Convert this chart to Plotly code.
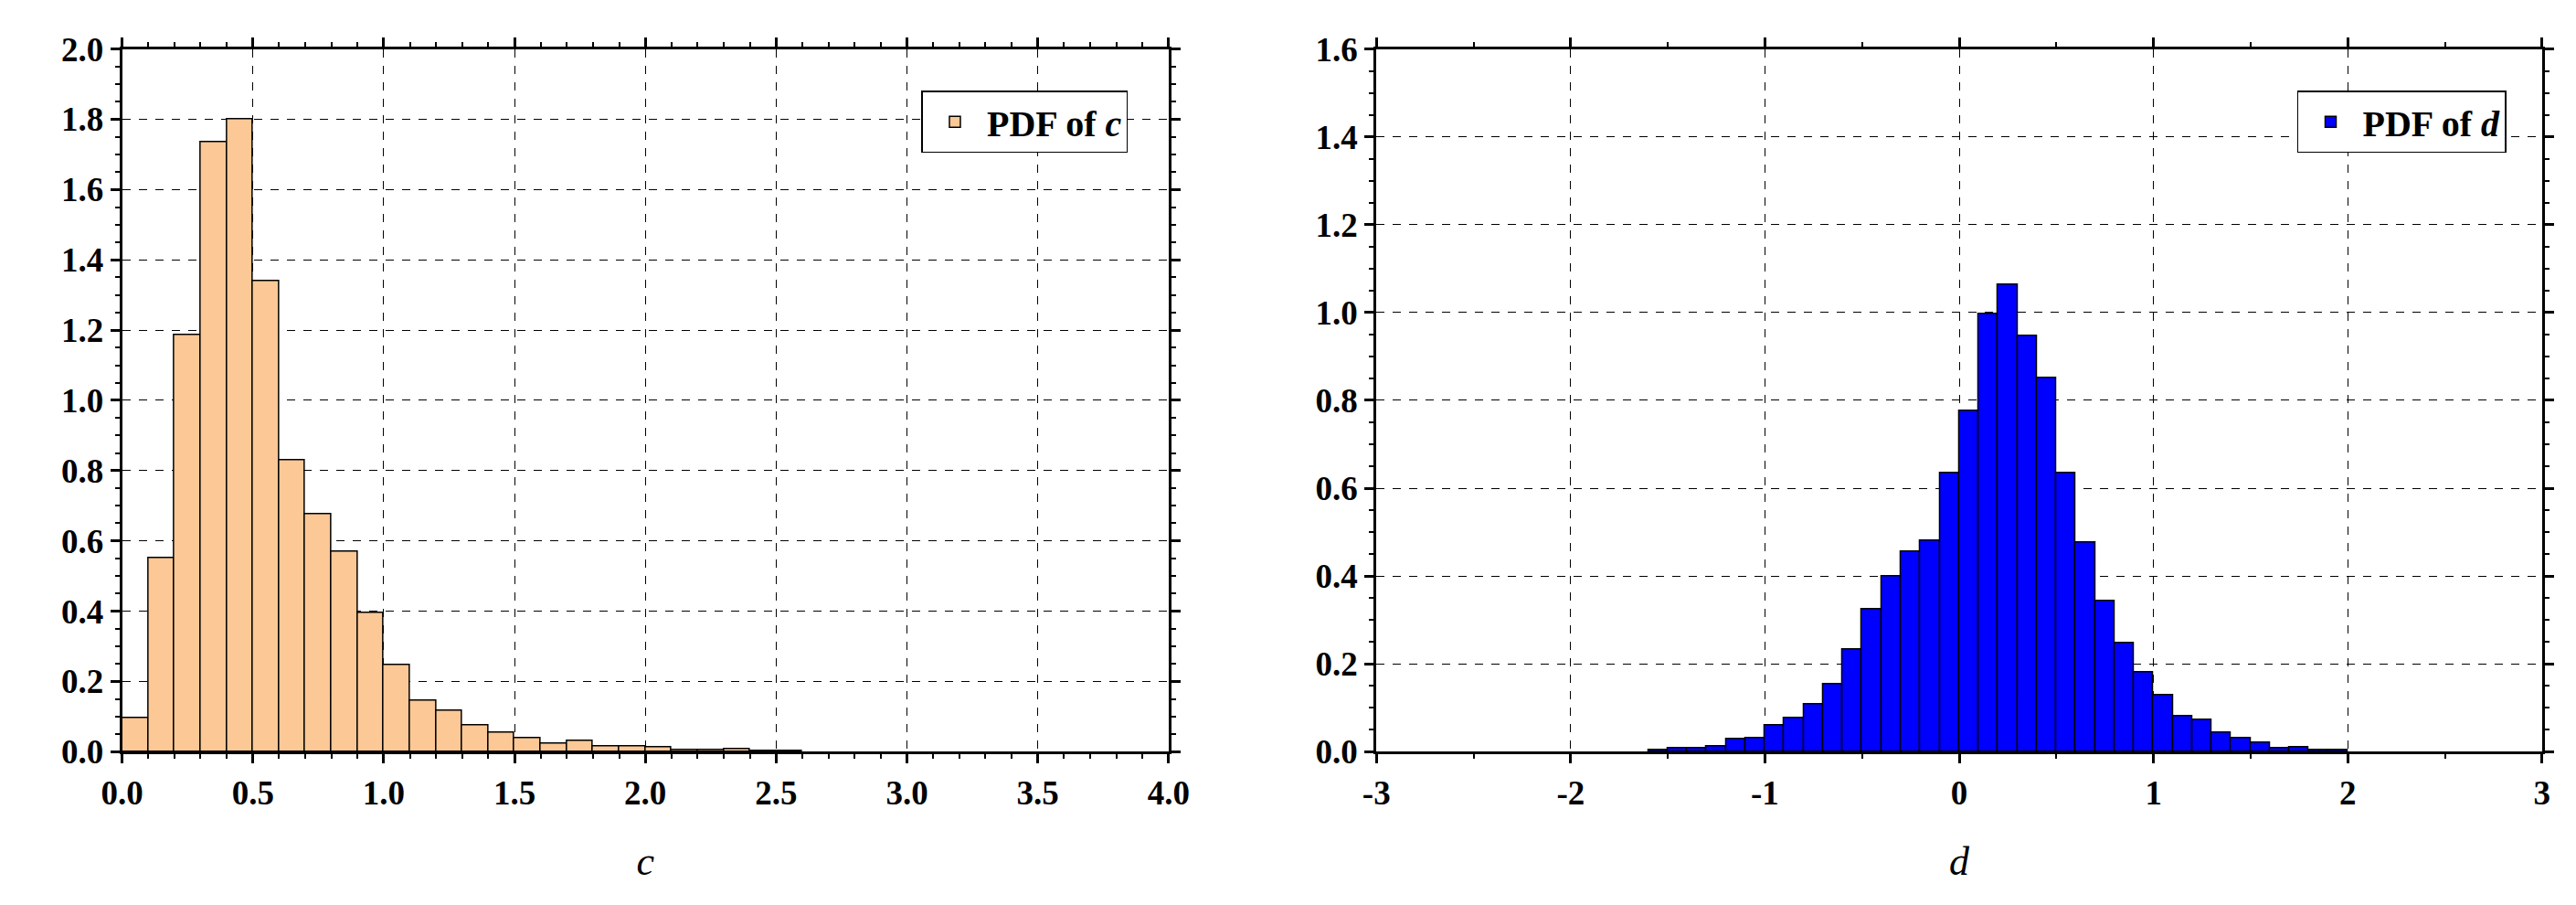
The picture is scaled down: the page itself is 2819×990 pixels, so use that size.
import plotly.graph_objs as go
from plotly.subplots import make_subplots

# left panel: PDF of c, bins of width 0.1 starting at 0
c_edges = [round(i * 0.1, 1) for i in range(0, 26)]
c_pdf = [0.096, 0.55, 1.185, 1.735, 1.80, 1.34, 0.83, 0.675, 0.57, 0.395,
         0.247, 0.145, 0.116, 0.075, 0.055, 0.037, 0.022, 0.030, 0.014, 0.014,
         0.012, 0.005, 0.005, 0.008, 0.002, 0.001]

# right panel: PDF of d, bins of width 0.1 starting at -1.6
d_edges = [round(-1.6 + i * 0.1, 1) for i in range(0, 36)]
d_pdf = [0.003, 0.007, 0.007, 0.012, 0.028, 0.031, 0.059, 0.077, 0.108, 0.153,
         0.233, 0.324, 0.40, 0.456, 0.48, 0.635, 0.776, 0.997, 1.063, 0.946,
         0.85, 0.635, 0.477, 0.343, 0.248, 0.18, 0.129, 0.08, 0.073, 0.044,
         0.031, 0.021, 0.008, 0.009, 0.004, 0.003]

d_ticks = [-3, -2, -1, 0, 1, 2, 3]
d_ticktext = ["-3", "-2", "-1", "0", "1", "2", "3"]

FONT = "Liberation Serif"

fig = make_subplots(rows=1, cols=2)

fig.add_trace(go.Bar(x=c_edges, y=c_pdf, width=0.1, offset=0, showlegend=True,
                     marker=dict(color="#fbc896", line=dict(color="black", width=1.5)),
                     name="<b>PDF of <i>c</i></b>", legend="legend"), row=1, col=1)
fig.add_trace(go.Bar(x=d_edges, y=d_pdf, width=0.1, offset=0, showlegend=True,
                     marker=dict(color="#0000ff", line=dict(color="black", width=1.5)),
                     name="<b>PDF of <i>d</i></b>", legend="legend2"), row=1, col=2)

axis_common = dict(showline=True, linecolor="black", linewidth=3, mirror="allticks",
                   ticks="outside", ticklen=10, tickwidth=3, tickcolor="black",
                   showgrid=True, gridcolor="black", griddash="dash", gridwidth=1.2,
                   zeroline=False,
                   tickfont=dict(family=FONT, size=37, color="black", weight="bold"),
                   minor=dict(ticks="outside", ticklen=5, tickwidth=2, tickcolor="black",
                              showgrid=False))

fig.update_xaxes(**axis_common)
fig.update_yaxes(**axis_common)

fig.update_xaxes(range=[0, 4], dtick=0.5, tickformat=".1f", domain=[0.037, 0.450],
                 title=dict(text="<i>c</i>", font=dict(family=FONT, size=44, color="black"),
                            standoff=40), row=1, col=1)
fig.update_yaxes(range=[0, 2.0], dtick=0.2, tickformat=".1f", domain=[0.163, 0.973],
                 row=1, col=1)
fig.update_xaxes(range=[-3, 3], tickvals=d_ticks, ticktext=d_ticktext,
                 domain=[0.532, 0.992],
                 title=dict(text="<i>d</i>", font=dict(family=FONT, size=44, color="black"),
                            standoff=40), row=1, col=2)
fig.update_yaxes(range=[0, 1.6], dtick=0.2, tickformat=".1f", domain=[0.163, 0.973],
                 row=1, col=2)

legend_common = dict(bgcolor="white", bordercolor="black", borderwidth=1.5,
                     font=dict(family=FONT, size=40, color="black"),
                     itemwidth=60, xanchor="right", yanchor="top")

fig.update_layout(
    width=2819, height=990,
    plot_bgcolor="white", paper_bgcolor="white",
    margin=dict(l=0, r=0, t=0, b=0),
    bargap=0,
    legend=dict(x=0.434, y=0.925, **legend_common),
    legend2=dict(x=0.978, y=0.925, **legend_common),
)

fig.write_html("out.html")
